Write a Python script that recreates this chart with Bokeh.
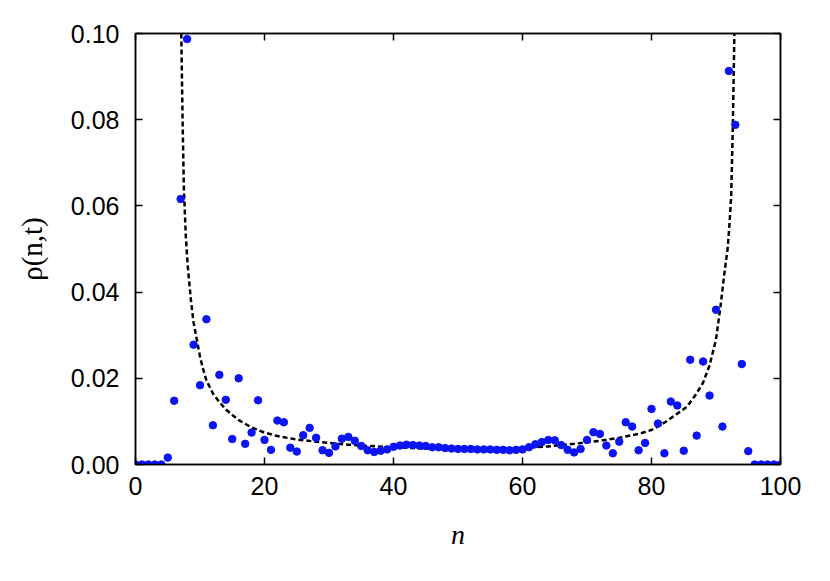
from bokeh.plotting import figure
from bokeh.models import (Range1d, FixedTicker, LinearAxis, NumeralTickFormatter,
                          ColumnDataSource, CustomLabelingPolicy)
from bokeh.embed import file_html
from bokeh.resources import INLINE

# ---- data ----
n_vals = list(range(101))
rho_vals = [
    0.0, 0.0, 0.0, 0.0, 0.0, 0.0016, 0.0148, 0.0616, 0.0987, 0.0278,
    0.0184, 0.0337, 0.0091, 0.0208, 0.0150, 0.0059, 0.0200, 0.0048, 0.0074, 0.0149,
    0.0057, 0.0034, 0.0102, 0.0098, 0.0039, 0.0030, 0.0068, 0.0085, 0.0062, 0.0033,
    0.0027, 0.0042, 0.0060, 0.0064, 0.0055, 0.0043, 0.0033, 0.0029, 0.0032, 0.0035,
    0.0041, 0.0044, 0.0046, 0.0045, 0.0044, 0.0043, 0.0040, 0.0040, 0.0038, 0.0037,
    0.0036, 0.0036, 0.0036, 0.0035, 0.0035, 0.0035, 0.0034, 0.0034, 0.0033, 0.0034,
    0.0035, 0.0040, 0.0047, 0.0052, 0.0057, 0.0056, 0.0045, 0.0034, 0.0028, 0.0036,
    0.0057, 0.0075, 0.0071, 0.0044, 0.0026, 0.0053, 0.0098, 0.0088, 0.0033, 0.0050,
    0.0129, 0.0095, 0.0026, 0.0146, 0.0137, 0.0032, 0.0243, 0.0067, 0.0239, 0.0160,
    0.0359, 0.0088, 0.0913, 0.0788, 0.0233, 0.0031, 0.0, 0.0, 0.0, 0.0,
    0.0,
]

curve_n = [7.1, 7.3, 7.5, 7.8, 8.1, 8.6, 9.0, 9.5, 10.0, 10.5, 11.0, 12.0, 13.0,
           14.0, 15.0, 16.0, 18.0, 20.0, 22.0, 25.0, 28.0, 30.0, 33.0, 36.0, 40.0,
           45.0, 50.0, 55.0, 60.0, 64.0, 68.0, 72.0, 75.0, 78.0, 80.0, 82.0, 84.0,
           85.5, 87.0, 88.0, 89.0, 90.0, 90.7, 91.3, 91.8, 92.1, 92.35, 92.6, 92.85]
curve_rho = [0.100, 0.080, 0.064, 0.053, 0.046, 0.038, 0.033, 0.029, 0.025, 0.022,
             0.0195, 0.0165, 0.0145, 0.0128, 0.0115, 0.0103, 0.0086, 0.0074, 0.0066,
             0.0058, 0.0053, 0.0050, 0.0046, 0.0043, 0.0040, 0.0037, 0.0036, 0.0036,
             0.0038, 0.0042, 0.0048, 0.0055, 0.0062, 0.0071, 0.0080, 0.0097, 0.0118,
             0.0134, 0.0165, 0.0190, 0.0230, 0.0290, 0.0367, 0.0444, 0.0500, 0.0560,
             0.0622, 0.0777, 0.100]

x_ticks = [0, 20, 40, 60, 80, 100]
y_ticks = [0.0, 0.02, 0.04, 0.06, 0.08, 0.10]

W, H = 822, 572
p = figure(width=W, height=H, output_backend="svg", toolbar_location=None,
           x_range=Range1d(0, 100), y_range=Range1d(0, 0.1),
           min_border_left=135, min_border_right=42, min_border_top=33,
           min_border_bottom=108)
p.grid.visible = False
p.background_fill_color = "white"
p.border_fill_color = "white"
p.outline_line_color = "black"
p.outline_line_width = 1.5
p.outline_line_alpha = 1.0

FONT = "Liberation Sans"
SERIF = "Liberation Serif"

HIDE_ALL = CustomLabelingPolicy(code="""
try { indices.clear(); return indices } catch (e) {}
try { return new indices.constructor(indices.size) } catch (e) {}
return indices
""")

def style_axis(ax, labels=True):
    ax.major_tick_in = 7
    ax.major_tick_out = 0
    ax.minor_tick_in = 0
    ax.minor_tick_out = 0
    ax.major_tick_line_color = "black"
    ax.major_tick_line_width = 1.5
    ax.axis_line_color = "black"
    ax.axis_line_width = 1.5
    ax.major_label_text_font = FONT
    ax.major_label_text_color = "black"
    ax.axis_label_text_color = "black"
    if labels:
        ax.major_label_text_font_size = "25px"
    else:
        ax.major_label_text_font_size = "0px"
        ax.major_label_policy = HIDE_ALL
        ax.major_label_standoff = 0

xa = p.xaxis[0]
ya = p.yaxis[0]
xa.ticker = FixedTicker(ticks=x_ticks)
ya.ticker = FixedTicker(ticks=y_ticks)
ya.formatter = NumeralTickFormatter(format="0.00")
style_axis(xa)
style_axis(ya)
xa.major_label_standoff = 12
ya.major_label_standoff = 16
xa.axis_label = "n"
xa.axis_label_text_font = SERIF
xa.axis_label_text_font_style = "italic"
xa.axis_label_text_font_size = "28px"
xa.axis_label_standoff = 21
ya.axis_label = "ρ(n,t)"
ya.axis_label_text_font = SERIF
ya.axis_label_text_font_style = "normal"
ya.axis_label_text_font_size = "29px"
ya.axis_label_standoff = 20

top = LinearAxis(ticker=FixedTicker(ticks=x_ticks))
style_axis(top, labels=False)
p.add_layout(top, "above")
right = LinearAxis(ticker=FixedTicker(ticks=y_ticks))
style_axis(right, labels=False)
p.add_layout(right, "right")

p.line(curve_n, curve_rho, line_color="black", line_width=2.5, line_dash="5 3")
src = ColumnDataSource(dict(n=n_vals, rho=rho_vals))
p.scatter("n", "rho", source=src, size=7.5, fill_color="#0a14f5",
          line_color="#0a14f5", marker="circle")

open("out.html", "w").write(file_html(p, INLINE))
